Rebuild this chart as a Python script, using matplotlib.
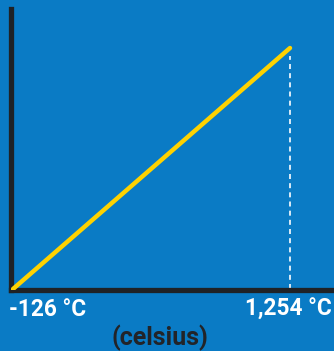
import matplotlib.pyplot as plt

# temperature range in celsius
temps = [-126, 1254]
levels = [0.0, 1.0]
tick_labels = ["-126 °C", "1,254 °C"]
axis_title = "(celsius)"

bg = "#0a7bc5"
W, H = 334, 351

fig = plt.figure(figsize=(W / 100, H / 100), dpi=100, facecolor=bg)
# axes box in pixels: left 10.5, right 331, top 9, bottom 290
ax = fig.add_axes([10.5 / W, (H - 290) / H, (331 - 10.5) / W, (290 - 9) / H])
ax.set_facecolor(bg)

px_x = (temps[1] - temps[0]) / (290 - 13)
ax.set_xlim(temps[0] - 2.5 * px_x, temps[1] + 41 * px_x)
px_y = 1 / (289 - 48)
ax.set_ylim(-1 * px_y, 1 + 39 * px_y)

ax.plot(temps, levels, color="#ffd200", lw=3.2, solid_capstyle="round", zorder=3)
ax.plot([temps[1], temps[1]], [0, levels[1] - 8 * px_y], color="white",
        lw=1.2, dashes=(3, 2.5), zorder=2)

for s in ["top", "right"]:
    ax.spines[s].set_visible(False)
for s in ["left", "bottom"]:
    ax.spines[s].set_color("#1f2226")
    ax.spines[s].set_linewidth(3.8)
ax.set_xticks([])
ax.set_yticks([])

fnt = ["Roboto", "DejaVu Sans"]
fig.text(9 / W, 1 - 309 / H, tick_labels[0], color="white", fontsize=16.3,
         fontweight="bold", family=fnt, ha="left", va="center")
fig.text(332 / W, 1 - 309 / H, tick_labels[1], color="white", fontsize=16.3,
         fontweight="bold", family=fnt, ha="right", va="center")
fig.text(160 / W, 1 - 337.5 / H, axis_title, color="#222428", fontsize=18,
         fontweight="bold", family=fnt, ha="center", va="center")

fig.savefig("out.png", dpi=100, facecolor=bg)
